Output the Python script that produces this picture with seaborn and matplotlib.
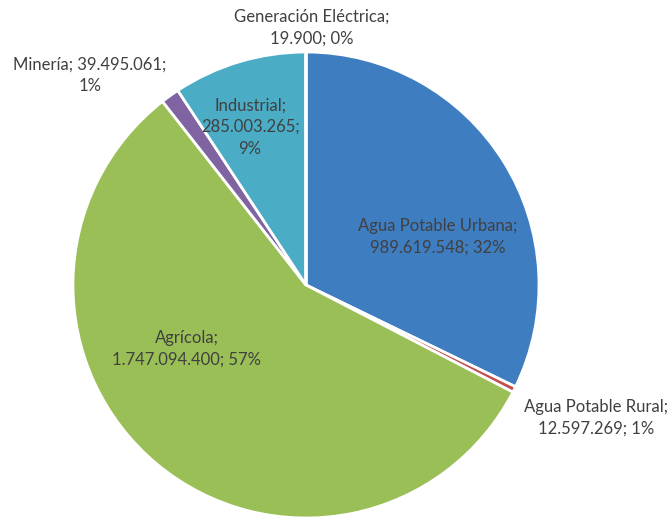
import matplotlib
matplotlib.use("Agg")
import matplotlib.pyplot as plt
import seaborn as sns

sns.set_theme(style="white")
plt.rcParams['font.family'] = ['Lato', 'DejaVu Sans']

categories = ["Agua Potable Urbana", "Agua Potable Rural", "Agrícola",
              "Minería", "Industrial", "Generación Eléctrica"]
values = [989619548, 12597269, 1747094400, 39495061, 285003265, 19900]
value_labels = ["989.619.548", "12.597.269", "1.747.094.400",
                "39.495.061", "285.003.265", "19.900"]
pct_labels = ["32%", "1%", "57%", "1%", "9%", "0%"]
colors = ["#3f7dc1", "#c0504d", "#9bbf57", "#8064a2", "#4bacc6", "#f79646"]

# label text layout (Excel style line breaks) and positions in pie units
label_texts = [
    "{c};\n{v}; {p}",
    "{c};\n{v}; {p}",
    "{c};\n{v}; {p}",
    "{c}; {v};\n{p}",
    "{c};\n{v};\n{p}",
    "{c};\n{v}; {p}",
]
label_pos = [(0.567, 0.206), (1.245, -0.571), (-0.511, -0.275),
             (-0.927, 0.901), (-0.24, 0.678), (0.026, 1.103)]

fig = plt.figure(figsize=(6.67, 5.19), dpi=100)
ax = fig.add_axes([0.1094, 0.0019, 0.6987, 0.8979])
ax.pie(values, colors=colors, startangle=90, counterclock=False, radius=1,
       wedgeprops=dict(edgecolor="white", linewidth=2))
ax.set_xlim(-1, 1)
ax.set_ylim(-1, 1)
ax.set_aspect("auto")
ax.axis("off")

for i, c in enumerate(categories):
    txt = label_texts[i].format(c=c, v=value_labels[i], p=pct_labels[i])
    ax.text(label_pos[i][0], label_pos[i][1], txt, ha="center", va="center",
            fontsize=12, color="#404040", linespacing=1.45, clip_on=False)

fig.savefig("out.png", dpi=100)
